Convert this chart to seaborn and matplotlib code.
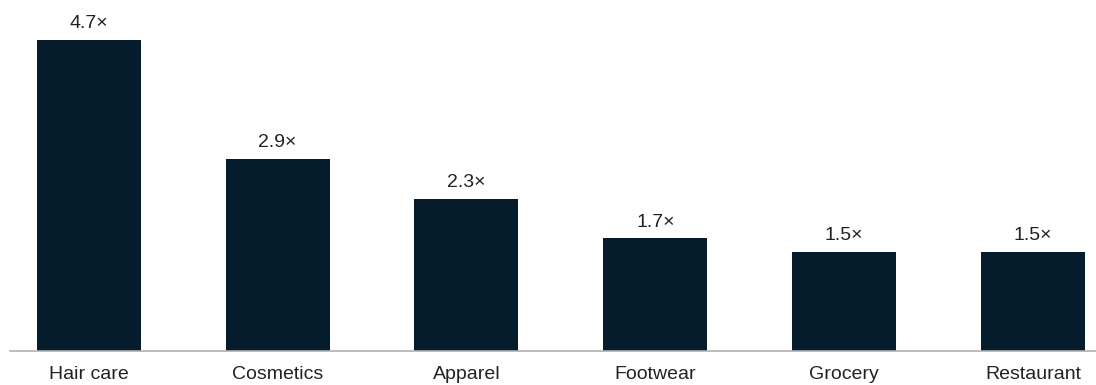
import matplotlib
matplotlib.use("Agg")
import matplotlib.pyplot as plt
import seaborn as sns
import pandas as pd

categories = ["Hair care", "Cosmetics", "Apparel", "Footwear", "Grocery", "Restaurant"]
values = [4.7, 2.9, 2.3, 1.7, 1.5, 1.5]
value_labels = ["4.7\u00d7", "2.9\u00d7", "2.3\u00d7", "1.7\u00d7", "1.5\u00d7", "1.5\u00d7"]

sns.set_style("white")
plt.rcParams['font.family'] = ['Liberation Sans', 'DejaVu Sans']

df = pd.DataFrame({"category": categories, "value": values})

fig = plt.figure(figsize=(10.96, 3.85), dpi=100)
ax = fig.add_axes([10 / 1096, 34 / 385, 1086 / 1096, 351 / 385])

sns.barplot(data=df, x="category", y="value", color="#051c2c",
            saturation=1, width=0.55, linewidth=0, ax=ax)

ax.set_xlim(-0.417, 5.334)
ax.set_ylim(0, 351 / 66.2)

# value labels on top of each bar
for i, (v, lab) in enumerate(zip(values, value_labels)):
    ax.annotate(lab, (i, v), xytext=(0, 5.5), textcoords="offset points",
                ha="center", va="bottom", fontsize=14, color="#222222")

ax.set_xlabel("")
ax.set_ylabel("")
ax.set_yticks([])
ax.tick_params(axis="x", length=0, pad=11, labelsize=14, labelcolor="#222222")
for s in ["top", "right", "left"]:
    ax.spines[s].set_visible(False)
ax.spines["bottom"].set_color("#b0b0b0")
ax.spines["bottom"].set_linewidth(1.2)

fig.savefig("out.png", dpi=100)
